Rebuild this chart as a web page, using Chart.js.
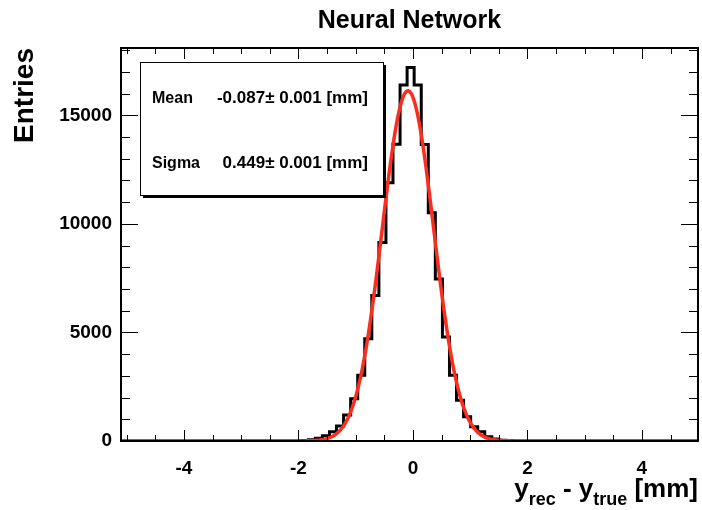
<!DOCTYPE html>
<html>
<head>
<meta charset="utf-8">
<title>Neural Network</title>
<script src="https://cdn.jsdelivr.net/npm/chart.js@4.4.0/dist/chart.umd.min.js"></script>
<style>
  html, body { margin: 0; padding: 0; background: #fff; }
  #wrap { width: 702px; height: 510px; }
</style>
</head>
<body>
<div id="wrap"><canvas id="resChart" width="702" height="510"></canvas></div>
<script>
// residual histogram: bin centres [mm] and entries per bin
const binCenters = [-2.013, -1.890, -1.766, -1.643, -1.520, -1.396, -1.273, -1.150,
                    -1.026, -0.903, -0.780, -0.657, -0.533, -0.410, -0.287, -0.163,
                    -0.040, 0.083, 0.207, 0.330, 0.453, 0.577, 0.700, 0.823,
                    0.946, 1.070, 1.193, 1.316, 1.440, 1.563, 1.686, 1.810];
const binEntries = [5, 20, 60, 124, 243, 426, 688, 1193,
                    1945, 3027, 4711, 6697, 9142, 11894, 13670, 16400,
                    17200, 16400, 13655, 10518, 7463, 4785, 3027, 1880,
                    1116, 656, 427, 197, 90, 40, 15, 5];
const binWidth = 0.1233;

// gaussian fit result
const fitMean = -0.087;
const fitMeanErr = 0.001;
const fitSigma = 0.449;
const fitSigmaErr = 0.001;
const fitAmplitude = 16130;

// axes
const xRange = [-5.1, 4.98];
const yMax = 18100;
const xTickLabels = [-4, -2, 0, 2, 4];
const yTickLabels = [0, 5000, 10000, 15000];

const FONT = '"Liberation Sans", Arial, Helvetica, sans-serif';

// histogram outline: one point per bin low edge, stepped
const histPoints = [{x: xRange[0], y: 0}];
binCenters.forEach((c, i) => histPoints.push({x: c - binWidth / 2, y: binEntries[i]}));
histPoints.push({x: binCenters[binCenters.length - 1] + binWidth / 2, y: 0});
histPoints.push({x: xRange[1], y: 0});

// fit curve sampled across the axis
const fitPoints = [];
for (let i = 0; i <= 504; i++) {
  const x = xRange[0] + i * 0.02;
  const u = (x - fitMean) / fitSigma;
  fitPoints.push({x: x, y: fitAmplitude * Math.exp(-0.5 * u * u)});
}

// frame, inward ticks, titles and the fit box
const rootDecor = {
  id: 'rootDecor',
  afterDatasetsDraw(chart) {
    const ctx = chart.ctx;
    const a = chart.chartArea;
    const xs = chart.scales.x, ys = chart.scales.y;
    ctx.save();
    ctx.strokeStyle = '#000';
    ctx.lineWidth = 1;
    ctx.beginPath();
    for (let i = Math.ceil(xs.min * 2); i <= Math.floor(xs.max * 2); i++) {
      const px = Math.round(xs.getPixelForValue(i / 2)) + 0.5;
      const len = i % 4 === 0 ? 11 : 6;
      ctx.moveTo(px, a.bottom); ctx.lineTo(px, a.bottom - len);
      ctx.moveTo(px, a.top); ctx.lineTo(px, a.top + len);
    }
    for (let v = 0; v <= ys.max; v += 1000) {
      const py = Math.round(ys.getPixelForValue(v)) + 0.5;
      const len = v % 5000 === 0 ? 17 : 9;
      ctx.moveTo(a.left, py); ctx.lineTo(a.left + len, py);
      ctx.moveTo(a.right, py); ctx.lineTo(a.right - len, py);
    }
    ctx.stroke();
    ctx.lineWidth = 2;
    ctx.strokeRect(a.left, a.top, a.right - a.left, a.bottom - a.top);

    // fit parameter box with shadow
    const bx = 140, by = 62, bw = 243, bh = 133;
    ctx.fillStyle = '#000';
    ctx.fillRect(bx + 3, by + 3, bw, bh);
    ctx.fillStyle = '#fff';
    ctx.fillRect(bx, by, bw, bh);
    ctx.lineWidth = 1;
    ctx.strokeRect(bx + 0.5, by + 0.5, bw, bh);
    ctx.fillStyle = '#000';
    ctx.font = 'bold 16px ' + FONT;
    ctx.textBaseline = 'alphabetic';
    ctx.textAlign = 'left';
    ctx.fillText('Mean', 152, 103);
    ctx.fillText('Sigma', 152, 168);
    ctx.textAlign = 'right';
    ctx.font = 'bold 17px ' + FONT;
    ctx.fillText(fitMean.toFixed(3) + '\u00b1 ' + fitMeanErr.toFixed(3) + ' [mm]', 368, 103);
    ctx.fillText(fitSigma.toFixed(3) + '\u00b1 ' + fitSigmaErr.toFixed(3) + ' [mm]', 368, 168);

    // plot title
    ctx.textAlign = 'center';
    ctx.font = 'bold 25px ' + FONT;
    ctx.fillText('Neural Network', (a.left + a.right) / 2, 28);

    // y axis title, right aligned to the top of the frame
    ctx.save();
    ctx.translate(33, a.top);
    ctx.rotate(-Math.PI / 2);
    ctx.textAlign = 'right';
    ctx.font = 'bold 28px ' + FONT;
    ctx.fillText('Entries', 0, 0);
    ctx.restore();

    // x axis title with subscripts, right aligned to the frame
    const parts = [
      ['y', 26, 0], ['rec', 18, 8], [' - y', 26, 0], ['true', 18, 8], [' [mm]', 26, 0]
    ];
    let total = 0;
    parts.forEach(p => { ctx.font = 'bold ' + p[1] + 'px ' + FONT; total += ctx.measureText(p[0]).width; });
    let tx = a.right - total;
    ctx.textAlign = 'left';
    parts.forEach(p => {
      ctx.font = 'bold ' + p[1] + 'px ' + FONT;
      ctx.fillText(p[0], tx, 497 + p[2]);
      tx += ctx.measureText(p[0]).width;
    });
    ctx.restore();
  }
};

new Chart(document.getElementById('resChart'), {
  type: 'line',
  data: {
    datasets: [
      {
        label: 'fit',
        data: fitPoints,
        borderColor: 'rgb(250, 45, 30)',
        borderWidth: 3.5,
        pointRadius: 0,
        fill: false,
        tension: 0,
        order: 0
      },
      {
        label: 'entries',
        data: histPoints,
        borderColor: '#000',
        borderWidth: 3,
        pointRadius: 0,
        fill: false,
        stepped: true,
        order: 1
      }
    ]
  },
  options: {
    responsive: false,
    animation: false,
    devicePixelRatio: 1,
    layout: { padding: { left: 0, right: 4, top: 48, bottom: 0 } },
    plugins: { legend: { display: false }, title: { display: false }, tooltip: { enabled: false } },
    scales: {
      x: {
        type: 'linear',
        min: xRange[0],
        max: xRange[1],
        grid: { display: false, drawTicks: false },
        border: { display: false },
        afterBuildTicks(s) { s.ticks = xTickLabels.map(v => ({value: v})); },
        ticks: {
          autoSkip: false,
          maxRotation: 0,
          padding: 16,
          color: '#000',
          font: { family: FONT, size: 19, weight: 'bold' },
          callback: v => String(v)
        },
        afterFit(s) { s.height = 69; }
      },
      y: {
        type: 'linear',
        min: 0,
        max: yMax,
        grid: { display: false, drawTicks: false },
        border: { display: false },
        afterBuildTicks(s) { s.ticks = yTickLabels.map(v => ({value: v})); },
        ticks: {
          autoSkip: false,
          padding: 9,
          color: '#000',
          font: { family: FONT, size: 19, weight: 'bold' },
          callback: v => String(v)
        },
        afterFit(s) { s.width = 121; }
      }
    }
  },
  plugins: [rootDecor]
});
</script>
</body>
</html>
